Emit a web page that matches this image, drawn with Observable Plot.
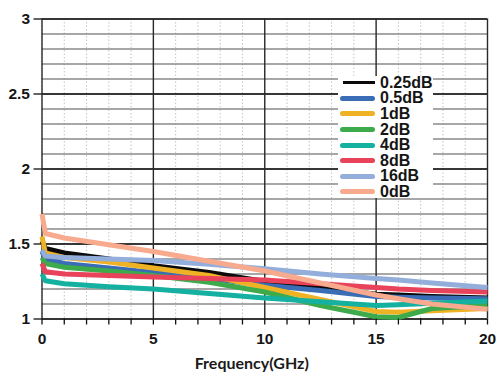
<!DOCTYPE html>
<html>
<head>
<meta charset="utf-8">
<script src="https://cdn.jsdelivr.net/npm/d3@7"></script>
<script src="https://cdn.jsdelivr.net/npm/@observablehq/plot@0.6"></script>
<style>
  html, body { margin: 0; padding: 0; background: #fff; }
  #wrap { position: relative; width: 497px; height: 377px; }
  #legend { position: absolute; left: 338px; top: 76px; width: 95px; height: 122px; background: #fff; }
  .row { position: absolute; left: 0; height: 16px; }
  .sw { position: absolute; left: 2px; width: 35px; border-radius: 3px; }
  .lb { position: absolute; left: 42px; top: -9px; font: bold 16px "Liberation Sans", Arial, sans-serif; color: #151515; white-space: nowrap; line-height: 18px; }
</style>
</head>
<body>
<div id="wrap"><div id="legend"></div></div>
<script>
const freq = [0, 0.15, 1, 3, 5, 7.5, 10, 12.5, 15, 16, 17.5, 20];
const seriesNames = ["0.25dB", "0.5dB", "1dB", "2dB", "4dB", "8dB", "16dB", "0dB"];
const seriesColors = ["#0a0a0a", "#3a6db5", "#f0b225", "#3daa4c", "#14b0a0", "#e8435b", "#93aedb", "#f8aa8e"];
const v025 = [1.52, 1.47, 1.44, 1.40, 1.355, 1.31, 1.25, 1.21, 1.165, 1.16, 1.15, 1.14];
const v05  = [1.45, 1.40, 1.37, 1.34, 1.31, 1.27, 1.225, 1.19, 1.15, 1.145, 1.14, 1.135];
const v1   = [1.55, 1.44, 1.41, 1.38, 1.34, 1.29, 1.21, 1.13, 1.05, 1.045, 1.055, 1.07];
const v2   = [1.41, 1.37, 1.345, 1.32, 1.29, 1.245, 1.18, 1.09, 1.015, 1.01, 1.07, 1.09];
const v4   = [1.30, 1.255, 1.235, 1.215, 1.20, 1.17, 1.14, 1.115, 1.09, 1.095, 1.105, 1.12];
const v8   = [1.37, 1.315, 1.30, 1.29, 1.28, 1.27, 1.26, 1.235, 1.21, 1.20, 1.19, 1.18];
const v16  = [1.46, 1.42, 1.41, 1.40, 1.39, 1.365, 1.335, 1.30, 1.27, 1.26, 1.24, 1.21];
const v0   = [1.70, 1.57, 1.54, 1.495, 1.45, 1.385, 1.32, 1.24, 1.16, 1.135, 1.10, 1.065];
const seriesValues = [v025, v05, v1, v2, v4, v8, v16, v0];

const xMajor = [0, 5, 10, 15, 20];
const xMinor = d3.range(0, 21, 1);
const yMajor = [1, 1.5, 2, 2.5, 3];
const yMinor = d3.range(1, 3.001, 0.1).map(d => +d.toFixed(1));
const xLabel = "Frequency(GHz)";

const rows = [];
seriesNames.forEach((name, i) => {
  freq.forEach((f, j) => rows.push({series: name, x: f, y: seriesValues[i][j]}));
});

const tickFont = {fontSize: 15.5, fontWeight: "bold", fontFamily: "Liberation Sans, Arial, sans-serif", fill: "#151515"};

const chart = Plot.plot({
  width: 497,
  height: 377,
  marginLeft: 41.5,
  marginRight: 10,
  marginTop: 18.5,
  marginBottom: 58.5,
  style: {background: "#fff", overflow: "visible"},
  x: {domain: [0, 20]},
  y: {domain: [1, 3]},
  color: {domain: seriesNames, range: seriesColors},
  marks: [
    Plot.ruleX(xMinor, {stroke: "#c4c4c4", strokeWidth: 1, strokeDasharray: "1.5,2"}),
    Plot.ruleY(yMinor, {stroke: "#8a8a8a", strokeWidth: 1.3}),
    Plot.ruleY(yMajor, {stroke: "#111", strokeWidth: 1.4}),
    Plot.ruleX(xMajor, {stroke: "#2a2a2a", strokeWidth: 1.4}),
    Plot.line(rows, {x: "x", y: "y", z: "series", stroke: "series", strokeWidth: 5, strokeLinejoin: "round", strokeLinecap: "butt"}),
    Plot.axisY({ticks: yMajor, tickSize: 8, tickPadding: 4, tickFormat: d => String(d), label: null, stroke: "#111", strokeWidth: 1.3, ...tickFont}),
    Plot.axisX({ticks: xMinor, tickSize: 6, tickPadding: 8, tickFormat: d => (d % 5 === 0 ? String(d) : ""), label: null, stroke: "#111", strokeWidth: 1.3, ...tickFont}),
    Plot.text([xLabel], {frameAnchor: "bottom", dx: -13, dy: 50, fontSize: 16, fontWeight: "bold", fontFamily: "Lato, Open Sans, sans-serif", fill: "#1a1a1a"})
  ]
});
const wrap = document.getElementById("wrap");
wrap.insertBefore(chart, wrap.firstChild);

const legend = document.getElementById("legend");
seriesNames.forEach((name, i) => {
  const row = document.createElement("div");
  row.className = "row";
  row.style.top = (6.7 + i * 15.6) + "px";
  const sw = document.createElement("div");
  sw.className = "sw";
  const h = i === 0 ? 3.5 : 5;
  sw.style.height = h + "px";
  sw.style.top = (-h / 2) + "px";
  sw.style.background = seriesColors[i];
  if (i === 0) { sw.style.left = "5px"; sw.style.width = "32px"; sw.style.borderRadius = "0"; }
  const lb = document.createElement("div");
  lb.className = "lb";
  lb.textContent = name;
  row.appendChild(sw);
  row.appendChild(lb);
  legend.appendChild(row);
});
</script>
</body>
</html>
